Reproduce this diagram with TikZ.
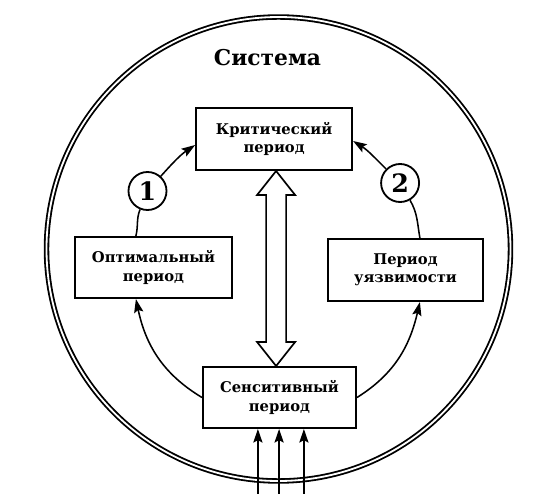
\documentclass[tikz,border=0pt]{standalone}
\usepackage{fontspec}
\setmainfont{DejaVu Serif}
\usetikzlibrary{positioning,arrows.meta,calc}

\begin{document}
\begin{tikzpicture}[
    font=\bfseries,
    box/.style={draw, line width=1.4pt, align=center, inner sep=2pt,
                font=\bfseries\fontsize{10.5}{13}\selectfont},
    num/.style={draw, circle, line width=1.3pt, minimum size=0.95cm,
                inner sep=0pt, font=\bfseries\fontsize{18}{18}\selectfont},
    flow/.style={-{Stealth[length=3.4mm, width=2.3mm, inset=0.6mm]},
                 line width=1.1pt},
    link/.style={line width=1.1pt},
    hollow/.style={line width=1.2pt, fill=white, line join=miter},
  ]

  \useasboundingbox (-6.9625,-6.275) rectangle (7.0375,6.225);

  % --- System boundary ----------------------------------------------------
  \node[draw, circle, double, line width=1.3pt, double distance=1.3pt,
        minimum size=11.6cm, inner sep=0pt] (system) at (0,0) {};
  \node[font=\bfseries\fontsize{15.5}{16}\selectfont] (title) at (-0.275,4.775)
    {Система};

  % --- Periods ------------------------------------------------------------
  \node[box, minimum width=3.9cm, minimum height=1.55cm] (crit) at (-0.11,2.75)
    {Критический\\период};
  \node[box, minimum width=3.925cm, minimum height=1.525cm] (opt) at (-3.125,-0.4625)
    {Оптимальный\\период};
  \node[box, minimum width=3.875cm, minimum height=1.55cm] (vuln) at (3.175,-0.525)
    {Период\\уязвимости};
  \node[box, minimum width=3.825cm, minimum height=1.525cm] (sens) at (0.025,-3.7125)
    {Сенситивный\\период};

  \node[num] (c1) at (-3.275,1.45) {1};
  \node[num] (c2) at (3.04,1.65) {2};

  % --- Cycle --------------------------------------------------------------
  \draw[flow] (sens.west) to[out=149, in=-78] ([xshift=-0.44cm]opt.south);
  \draw[link] ([xshift=-0.44cm]opt.north) to[out=76, in=248] (c1);
  \draw[flow] (c1) to[out=48, in=214] ([yshift=-0.15cm]crit.west);

  \draw[flow] (sens.east) to[out=32, in=-103] ([xshift=0.36cm]vuln.south);
  \draw[link] ([xshift=0.36cm]vuln.north) to[out=100, in=-60] (c2);
  \draw[flow] (c2) to[out=135, in=-32] ([yshift=-0.05cm]crit.east);

  % --- Two-way link -------------------------------------------------------
  \coordinate (axis) at (-0.06,0);
  \draw[hollow] (crit.south -| axis) -- ++(0.475,-0.6) -- ++(-0.225,0)
    -- ($(sens.north -| axis)+(0.25,0.6)$) -- ++(0.225,0)
    -- (sens.north -| axis) -- ++(-0.475,0.6) -- ++(0.225,0)
    -- ($(crit.south -| axis)+(-0.25,-0.6)$) -- ++(-0.225,0) -- cycle;

  % --- Inputs -------------------------------------------------------------
  \foreach \i/\dx in {1/-0.54, 2/-0.01, 3/0.61}{
    \coordinate (in\i) at ([xshift=\dx cm, yshift=-1.62cm]sens.south);
    \draw[flow] (in\i) -- (in\i |- sens.south);
  }

\end{tikzpicture}
\end{document}
